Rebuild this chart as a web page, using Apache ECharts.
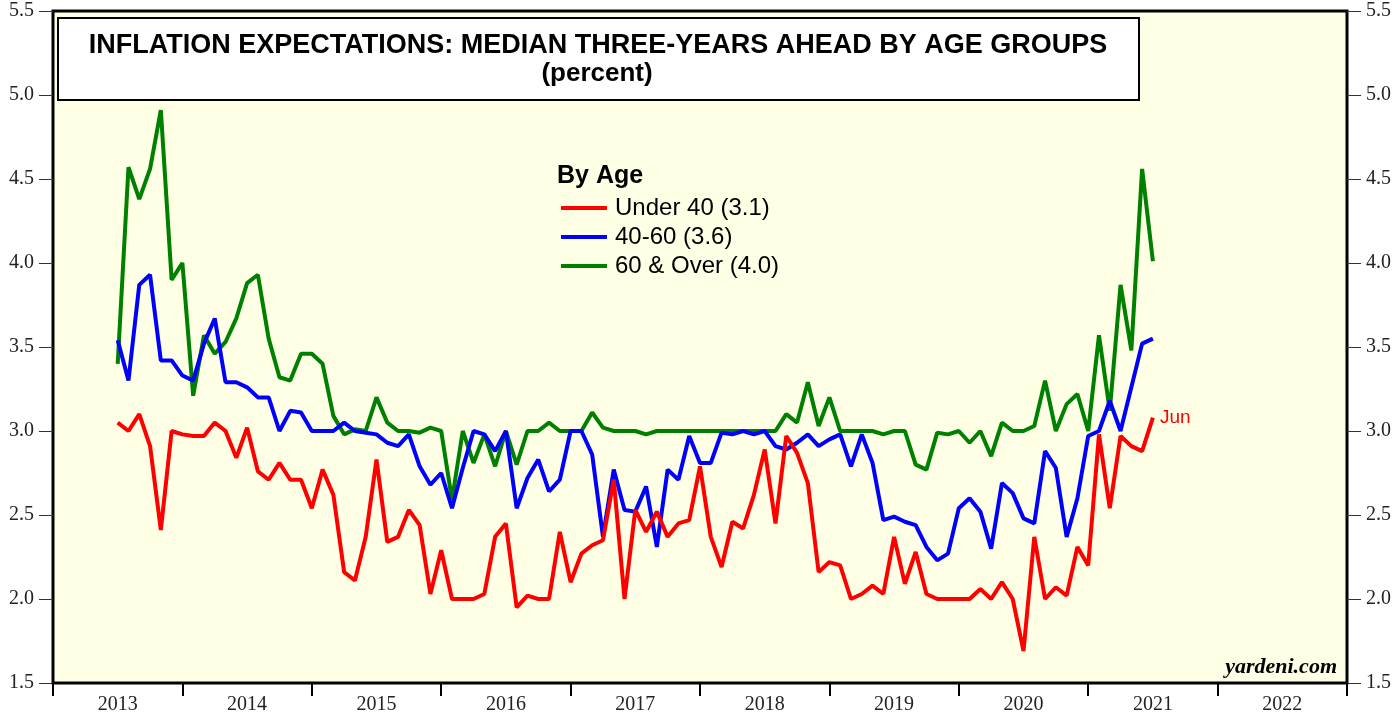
<!DOCTYPE html>
<html>
<head>
<meta charset="utf-8">
<title>Inflation Expectations by Age Groups</title>
<style>
  html, body { margin: 0; padding: 0; background: #fff; }
  #chart-container { width: 1400px; height: 717px; }
</style>
</head>
<body>
<div id="chart-container"></div>
<script src="https://cdn.jsdelivr.net/npm/echarts@6/dist/echarts.min.js"></script>
<script>
// Monthly survey, Jun 2013 .. Jun 2021 (plotted at month end)
const startYear = 2013, startMonth = 6, monthCount = 97;
const months = [];
for (let i = 0; i < monthCount; i++) {
  const m = startMonth - 1 + i;
  months.push((startYear + Math.floor(m / 12)) + "-" + String((m % 12) + 1).padStart(2, "0"));
}

const yearLabels = ["2013", "2014", "2015", "2016", "2017", "2018", "2019", "2020", "2021", "2022"];
const yTicks = [1.5, 2.0, 2.5, 3.0, 3.5, 4.0, 4.5, 5.0, 5.5];

const under40 = [
  3.05, 3.00, 3.10, 2.91, 2.41, 3.00, 2.98, 2.97, 2.97, 3.05,
  3.00, 2.84, 3.02, 2.76, 2.71, 2.81, 2.71, 2.71, 2.54, 2.77,
  2.62, 2.16, 2.11, 2.37, 2.83, 2.34, 2.37, 2.53, 2.44, 2.03,
  2.29, 2.00, 2.00, 2.00, 2.03, 2.37, 2.45, 1.95, 2.02, 2.00,
  2.00, 2.40, 2.10, 2.27, 2.32, 2.35, 2.71, 2.00, 2.53, 2.40,
  2.52, 2.37, 2.45, 2.47, 2.79, 2.37, 2.19, 2.46, 2.42, 2.62,
  2.89, 2.45, 2.97, 2.87, 2.69, 2.16, 2.22, 2.20, 2.00, 2.03,
  2.08, 2.03, 2.37, 2.09, 2.28, 2.03, 2.00, 2.00, 2.00, 2.00,
  2.06, 2.00, 2.10, 2.00, 1.69, 2.37, 2.00, 2.07, 2.02, 2.31,
  2.20, 2.98, 2.54, 2.97, 2.91, 2.88, 3.08
];

const age40to60 = [
  3.54, 3.30, 3.87, 3.93, 3.42, 3.42, 3.33, 3.30, 3.52, 3.67,
  3.29, 3.29, 3.26, 3.20, 3.20, 3.00, 3.12, 3.11, 3.00, 3.00,
  3.00, 3.05, 3.00, 2.99, 2.98, 2.93, 2.91, 2.98, 2.79, 2.68,
  2.75, 2.54, 2.78, 3.00, 2.98, 2.88, 3.00, 2.54, 2.72, 2.83,
  2.64, 2.71, 3.00, 3.00, 2.86, 2.37, 2.77, 2.53, 2.52, 2.67,
  2.31, 2.77, 2.71, 2.97, 2.81, 2.81, 2.99, 2.98, 3.00, 2.98,
  3.00, 2.91, 2.89, 2.93, 2.98, 2.91, 2.95, 2.98, 2.79, 2.98,
  2.81, 2.47, 2.49, 2.46, 2.44, 2.31, 2.23, 2.27, 2.54, 2.60,
  2.52, 2.30, 2.69, 2.63, 2.48, 2.45, 2.88, 2.78, 2.37, 2.60,
  2.97, 3.00, 3.18, 3.00, 3.26, 3.52, 3.55
];

const over60 = [
  3.40, 4.57, 4.38, 4.56, 4.91, 3.90, 4.00, 3.21, 3.57, 3.46,
  3.53, 3.67, 3.88, 3.93, 3.55, 3.32, 3.30, 3.46, 3.46, 3.40,
  3.09, 2.98, 3.01, 3.00, 3.20, 3.05, 3.00, 3.00, 2.99, 3.02,
  3.00, 2.59, 3.00, 2.81, 2.98, 2.79, 3.00, 2.80, 3.00, 3.00,
  3.05, 3.00, 3.00, 3.00, 3.11, 3.02, 3.00, 3.00, 3.00, 2.98,
  3.00, 3.00, 3.00, 3.00, 3.00, 3.00, 3.00, 3.00, 3.00, 3.00,
  3.00, 3.00, 3.10, 3.05, 3.29, 3.03, 3.20, 3.00, 3.00, 3.00,
  3.00, 2.98, 3.00, 3.00, 2.80, 2.77, 2.99, 2.98, 3.00, 2.93,
  3.00, 2.85, 3.05, 3.00, 3.00, 3.03, 3.30, 3.00, 3.16, 3.22,
  3.00, 3.57, 3.12, 3.87, 3.48, 4.56, 4.01
];

// "YYYY-MM" -> decimal year at month end
function monthEnd(s) {
  const [y, m] = s.split("-").map(Number);
  return y + m / 12;
}
function pairs(values) {
  return values.map((v, i) => [monthEnd(months[i]), v]);
}

const dom = document.getElementById("chart-container");
const myChart = echarts.init(dom, null, { renderer: "canvas" });

const serif = "'Liberation Serif', 'Times New Roman', serif";
const sans = "'Liberation Sans', Arial, sans-serif";

const yAxisBase = {
  type: "value",
  min: yTicks[0],
  max: yTicks[yTicks.length - 1],
  interval: 0.5,
  axisLine: { show: false },
  axisTick: { show: true, length: 14, lineStyle: { color: "#333", width: 1 } },
  axisLabel: {
    margin: 19,
    fontFamily: serif,
    fontSize: 20,
    color: "#222",
    formatter: (v) => v.toFixed(1),
  },
  splitLine: { show: false },
};

const option = {
  animation: false,
  backgroundColor: "#fff",
  grid: {
    left: 53,
    right: 53,
    top: 11,
    bottom: 34,
    show: true,
    backgroundColor: "#FFFFE6",
    borderColor: "#000",
    borderWidth: 3,
  },
  xAxis: [
    {
      type: "value",
      min: 2013,
      max: 2023,
      interval: 1,
      axisLine: { show: false },
      axisTick: { show: true, length: 13, lineStyle: { color: "#000", width: 2 } },
      axisLabel: { show: false },
      splitLine: { show: false },
    },
    {
      type: "category",
      data: yearLabels,
      position: "bottom",
      boundaryGap: true,
      axisLine: { show: false },
      axisTick: { show: false },
      axisLabel: { margin: 12, fontFamily: serif, fontSize: 20, color: "#222" },
      splitLine: { show: false },
    },
  ],
  yAxis: [
    Object.assign({ position: "left" }, yAxisBase),
    Object.assign({ position: "right" }, yAxisBase),
  ],
  legend: {
    orient: "vertical",
    left: 556,
    top: 191,
    icon: "rect",
    itemWidth: 46,
    itemHeight: 4,
    itemGap: 5,
    selectedMode: false,
    textStyle: {
      fontFamily: sans,
      fontSize: 24,
      lineHeight: 24,
      color: "#000",
      padding: [0, 0, 0, 3],
    },
    data: ["Under 40 (3.1)", "40-60 (3.6)", "60 & Over (4.0)"],
  },
  series: [
    {
      name: "60 & Over (4.0)",
      type: "line",
      data: pairs(over60),
      showSymbol: false,
      color: "#008000",
      lineStyle: { width: 4, color: "#008000" },
    },
    {
      name: "40-60 (3.6)",
      type: "line",
      data: pairs(age40to60),
      showSymbol: false,
      color: "#0000FF",
      lineStyle: { width: 4, color: "#0000FF" },
    },
    {
      name: "Under 40 (3.1)",
      type: "line",
      data: pairs(under40),
      showSymbol: false,
      color: "#FF0000",
      lineStyle: { width: 4, color: "#FF0000" },
      endLabel: {
        show: true,
        formatter: "Jun",
        color: "#FF0000",
        fontFamily: sans,
        fontSize: 19,
        distance: 7,
      },
    },
  ],
  graphic: [
    {
      type: "rect",
      left: 57,
      top: 17,
      shape: { width: 1081, height: 82 },
      style: { fill: "#fff", stroke: "#000", lineWidth: 2 },
      z: 10,
    },
    {
      type: "text",
      x: 598,
      y: 46,
      style: {
        text: "INFLATION EXPECTATIONS: MEDIAN THREE-YEARS AHEAD BY AGE GROUPS",
        font: "bold 27px " + sans,
        fill: "#000",
        align: "center",
        verticalAlign: "middle",
      },
      z: 11,
    },
    {
      type: "text",
      x: 597,
      y: 74,
      style: {
        text: "(percent)",
        font: "bold 26px " + sans,
        fill: "#000",
        align: "center",
        verticalAlign: "middle",
      },
      z: 11,
    },
    {
      type: "text",
      x: 557,
      y: 176,
      style: {
        text: "By Age",
        font: "bold 25px " + sans,
        fill: "#000",
        verticalAlign: "middle",
      },
      z: 11,
    },
    {
      type: "text",
      x: 1337,
      y: 667,
      style: {
        text: "yardeni.com",
        font: "italic bold 22px " + serif,
        fill: "#000",
        align: "right",
        verticalAlign: "middle",
      },
      z: 11,
    },
  ],
};

myChart.setOption(option);
window.addEventListener("resize", myChart.resize);
</script>
</body>
</html>
